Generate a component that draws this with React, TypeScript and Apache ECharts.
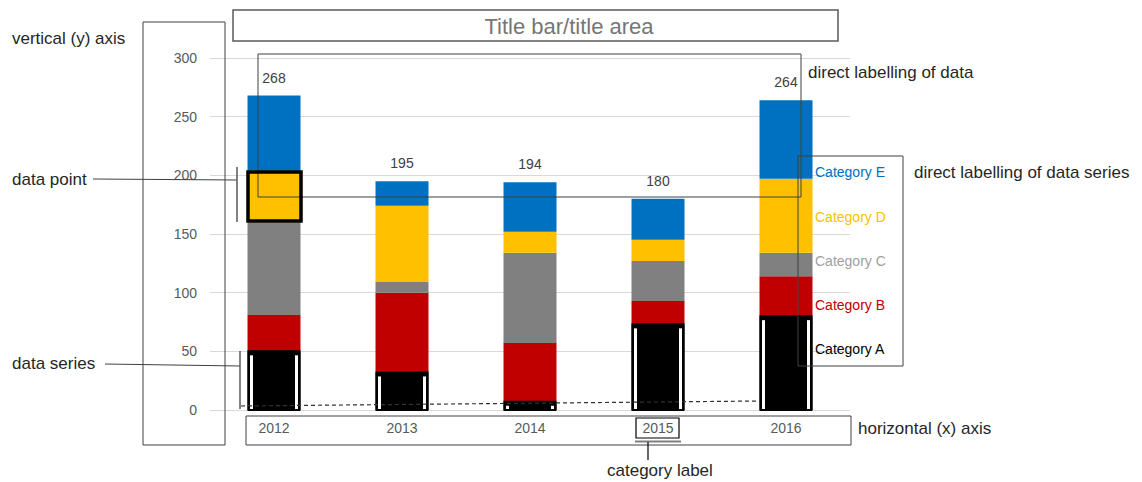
import React, { useEffect, useRef } from "react";
import * as echarts from "echarts";

const years = ["2012", "2013", "2014", "2015", "2016"];
const seriesNames = ["Category A", "Category B", "Category C", "Category D", "Category E"];
const seriesColors = ["#000000", "#C00000", "#808080", "#FFC000", "#0070C0"];
const labelColors = ["#000000", "#C00000", "#A0A0A0", "#FFC000", "#0070C0"];
const catA = [50, 32, 7, 73, 80];
const catB = [31, 68, 50, 20, 34];
const catC = [79, 9, 77, 34, 20];
const catD = [44, 65, 18, 18, 63];
const catE = [64, 21, 42, 35, 67];
const yTicks = [0, 50, 100, 150, 200, 250, 300];

const FONT = "'Liberation Sans', Arial, sans-serif";
const INK = "#262626";
const LINE = "#404040";

export default function App() {
  const ref = useRef<HTMLDivElement>(null);

  useEffect(() => {
    if (!ref.current) return;
    const chart = echarts.init(ref.current, null, { renderer: "svg" });
    const values = [catA, catB, catC, catD, catE];
    const totals = years.map((_, i) => values.reduce((s, arr) => s + arr[i], 0));
    const barW = 53;

    const barSeries = values.map((arr, k) => ({
      type: "bar",
      name: seriesNames[k],
      stack: "total",
      barWidth: barW,
      data: arr,
      itemStyle: { color: seriesColors[k] },
      label:
        k === values.length - 1
          ? {
              show: true,
              position: "top",
              distance: 11,
              formatter: (p: any) => String(totals[p.dataIndex]),
              color: "#404040",
              fontSize: 14,
              fontFamily: FONT,
            }
          : { show: false },
    }));

    // Outline around the Category A segments (the "data series" call-out)
    const outline = {
      type: "custom",
      data: catA.map((v, i) => [i, v]),
      encode: { x: 0, y: 1 },
      z: 5,
      renderItem: (params: any, api: any) => {
        const base = api.coord([api.value(0), 0]);
        const top = api.coord([api.value(0), api.value(1)]);
        const cx = base[0];
        const y0 = base[1];
        const yt = top[1];
        const left = cx - barW / 2;
        const right = cx + barW / 2;
        return {
          type: "group",
          children: [
            {
              type: "rect",
              shape: { x: left + 1, y: yt, width: barW - 2, height: y0 - yt },
              style: { fill: "none", stroke: "#000", lineWidth: 2 },
            },
            {
              type: "line",
              shape: { x1: left + 4, y1: yt + 4, x2: left + 4, y2: y0 - 1 },
              style: { stroke: "#fff", lineWidth: 3 },
            },
            {
              type: "line",
              shape: { x1: right - 4, y1: yt + 4, x2: right - 4, y2: y0 - 1 },
              style: { stroke: "#fff", lineWidth: 3 },
            },
          ],
        };
      },
    };

    const txt = (x: number, y: number, text: string, size = 17, color = INK, align = "left") => ({
      type: "text",
      x,
      y,
      z: 100,
      style: { text, fill: color, font: `${size}px ${FONT}`, textAlign: align, textVerticalAlign: "middle" },
    });
    const box = (x: number, y: number, w: number, h: number, lw = 1, stroke = LINE) => ({
      type: "rect",
      z: 100,
      shape: { x, y, width: w, height: h },
      style: { fill: "none", stroke, lineWidth: lw },
    });
    const seg = (x1: number, y1: number, x2: number, y2: number, lw = 1, stroke = LINE, dash?: number[]) => ({
      type: "line",
      z: 100,
      shape: { x1, y1, x2, y2 },
      style: { stroke, lineWidth: lw, lineDash: dash },
    });

    // Series name labels stacked beside the last column
    const seriesLabelY = [349, 305, 261, 217, 172];
    const seriesLabels = seriesNames.map((n, k) => txt(815, seriesLabelY[k], n, 14, labelColors[k]));

    chart.setOption({
      animation: false,
      grid: { left: 210, right: 292, top: 58, bottom: 72, containLabel: false },
      xAxis: {
        type: "category",
        data: years,
        axisLine: { show: false },
        axisTick: { show: false },
        axisLabel: { color: "#595959", fontSize: 14, fontFamily: FONT, margin: 11 },
      },
      yAxis: {
        type: "value",
        min: yTicks[0],
        max: yTicks[yTicks.length - 1],
        interval: 50,
        axisLine: { show: false },
        axisTick: { show: false },
        axisLabel: { color: "#595959", fontSize: 14, fontFamily: FONT, margin: 13 },
        splitLine: { lineStyle: { color: "#D9D9D9", width: 1 } },
      },
      series: [...barSeries, outline],
      graphic: [
        // title area
        box(233, 10, 605, 31, 1.5, "#595959"),
        txt(569, 26, "Title bar/title area", 22, "#767676", "center"),
        // y axis
        txt(12, 38, "vertical (y) axis"),
        box(143, 22, 82, 423),
        // direct labelling of data
        box(258, 54, 543, 143),
        txt(808, 72, "direct labelling of data"),
        // data point
        txt(12, 179, "data point"),
        seg(93, 179, 237, 180),
        seg(237, 167, 237, 222, 1.5, "#595959"),
        box(248, 172, 53, 49, 3.5, "#000"),
        // data series
        txt(12, 363, "data series"),
        seg(105, 364, 240, 366),
        seg(240, 351, 240, 409, 1.5, "#595959"),
        seg(241, 406, 760, 401, 1.2, "#333", [4, 3]),
        // series labels
        box(798, 156, 105, 210),
        txt(914, 172, "direct labelling of data series"),
        ...seriesLabels,
        // x axis
        box(246, 416, 605, 29),
        txt(858, 428, "horizontal (x) axis"),
        // category label
        box(636, 418, 43, 20, 1.2, "#000"),
        seg(635, 441.5, 681, 441.5, 2, "#808080"),
        seg(648, 442, 648, 460, 1.2, "#000"),
        txt(607, 470, "category label"),
      ],
    });

    return () => chart.dispose();
  }, []);

  return <div ref={ref} style={{ width: 1142, height: 482, position: "absolute", left: 0, top: 0, background: "#fff" }} />;
}
